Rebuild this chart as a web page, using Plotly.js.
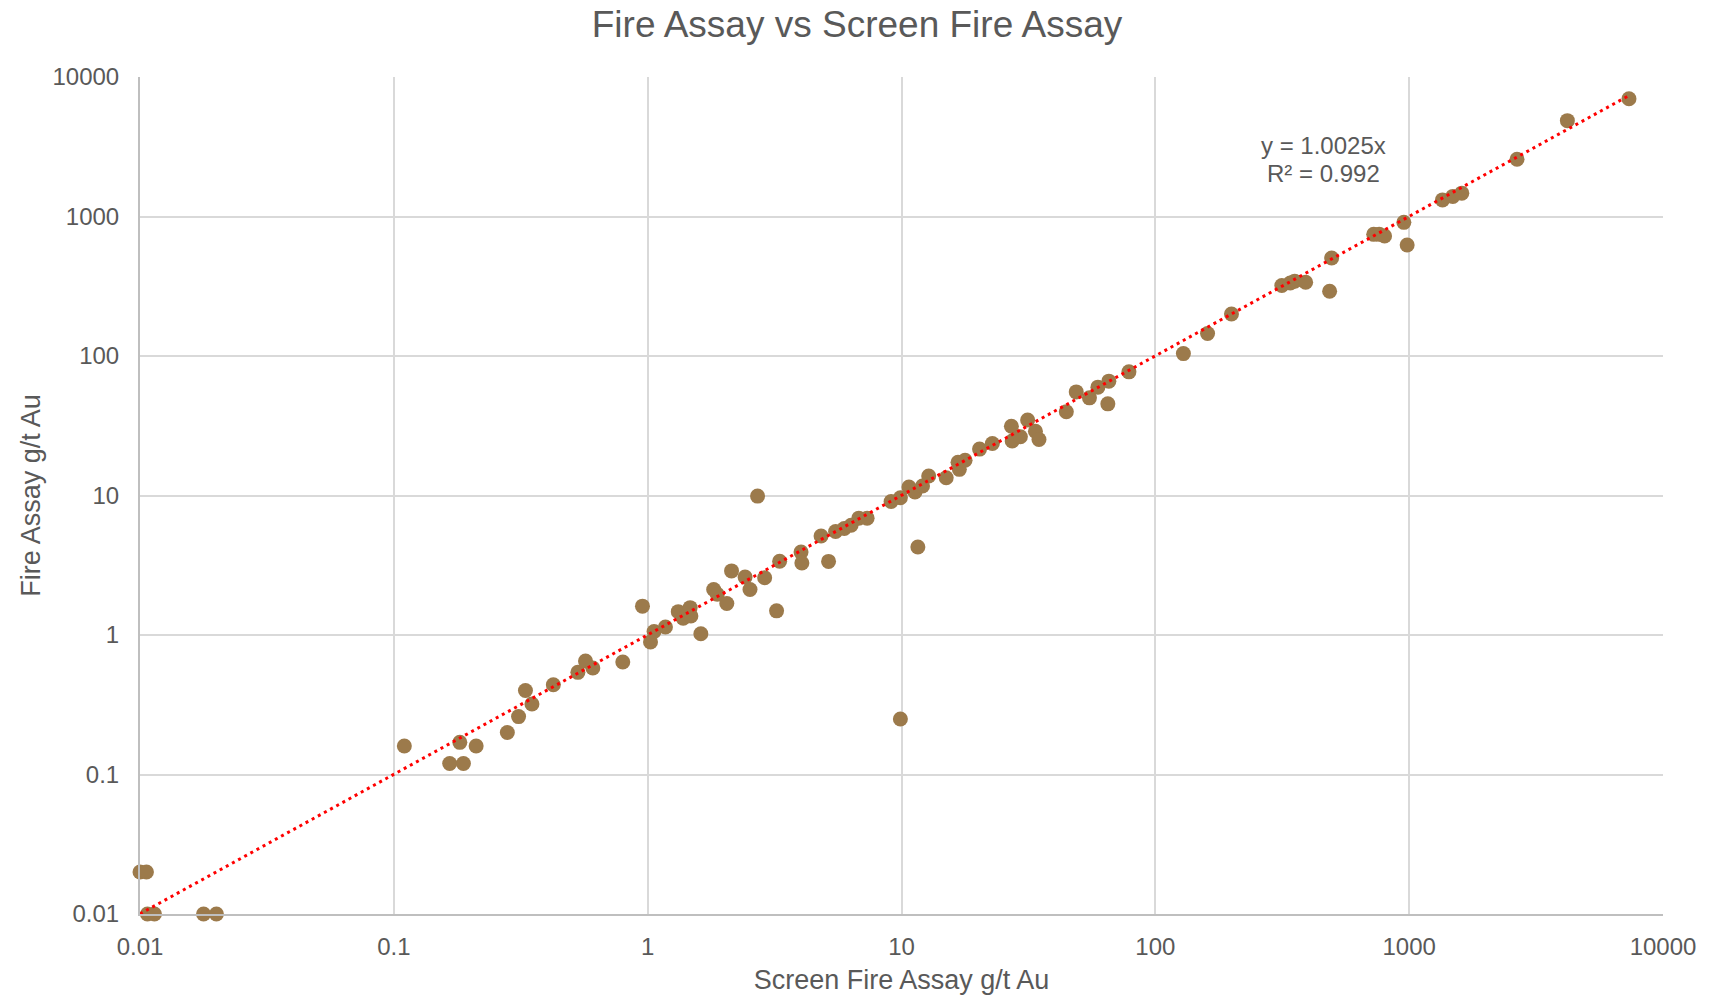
<!DOCTYPE html>
<html>
<head>
<meta charset="utf-8">
<script src="https://cdn.plot.ly/plotly-3.0.1.min.js"></script>
<style>
  html, body { margin: 0; padding: 0; background: #ffffff; }
  #chart { width: 1714px; height: 995px; }
</style>
</head>
<body>
<div id="chart"></div>
<script>
// Screen Fire Assay (x) vs Fire Assay (y), g/t Au
const screenFireAssay = [
  0.01, 0.0106, 0.0107, 0.0114, 0.0178, 0.02,
  0.11, 0.166, 0.182, 0.188, 0.211, 0.28, 0.31, 0.33, 0.35, 0.425,
  0.531, 0.569, 0.608, 0.798, 0.954, 1.026, 1.06, 1.175, 1.32, 1.38,
  1.47, 1.48, 1.62, 1.82, 1.88, 2.05, 2.14, 2.42, 2.53, 2.71,
  2.89, 3.22, 3.31, 4.02, 4.05, 4.82, 5.16, 5.5, 5.95, 6.33,
  6.79, 7.32, 9.1, 9.9, 9.9, 10.7, 11.3, 11.6, 12.1, 12.8,
  15.0, 16.7, 16.9, 17.8, 20.3, 22.8, 27.1, 27.3, 29.4, 31.4,
  33.7, 34.8, 44.6, 48.8, 55.0, 59.4, 65.0, 65.6, 78.7, 129,
  160.6, 199.5, 315, 340, 354, 391, 486, 495, 725, 762,
  800, 953, 982, 1353, 1486, 1612, 2660, 4200, 7345
];
const fireAssay = [
  0.02, 0.02, 0.01, 0.01, 0.01, 0.01,
  0.16, 0.12, 0.17, 0.12, 0.16, 0.2, 0.26, 0.4, 0.32, 0.44,
  0.54, 0.65, 0.58, 0.64, 1.61, 0.89, 1.06, 1.14, 1.47, 1.32,
  1.57, 1.37, 1.02, 2.12, 1.96, 1.68, 2.88, 2.6, 2.12, 9.9,
  2.57, 1.49, 3.38, 3.93, 3.28, 5.12, 3.37, 5.52, 5.8, 6.12,
  6.88, 6.88, 9.05, 9.64, 0.25, 11.5, 10.6, 4.27, 11.7, 13.8,
  13.4, 17.3, 15.4, 17.9, 21.5, 23.6, 31.4, 24.6, 26.4, 34.8,
  28.9, 25.2, 39.8, 55.3, 50.1, 59.8, 45.4, 66.0, 77, 104,
  145, 200, 320, 334, 344, 338, 291, 504, 745, 745,
  725, 908, 625, 1315, 1393, 1470, 2570, 4865, 6990
];

// Linear trendline through origin reported on the chart
const trendSlope = 1.0025;
const trendLabel = "y = 1.0025x";
const r2Label = "R² = 0.992";

const tickValues = [0.01, 0.1, 1, 10, 100, 1000, 10000];
const tickLabels = ["0.01", "0.1", "1", "10", "100", "1000", "10000"];

const xMin = Math.min(...screenFireAssay);
const xMax = Math.max(...screenFireAssay);
const trendX = [xMin, xMax];
const trendY = trendX.map(v => trendSlope * v);

const textColor = "#595959";
const fontFam = "'Liberation Sans', Arial, sans-serif";

const traces = [
  {
    type: "scatter",
    mode: "markers",
    x: screenFireAssay,
    y: fireAssay,
    name: "Fire Assay",
    cliponaxis: false,
    marker: { color: "#9C7A4B", size: 15, line: { width: 0 } },
    hoverinfo: "x+y"
  },
  {
    type: "scatter",
    mode: "lines",
    x: trendX,
    y: trendY,
    name: "Linear trend",
    cliponaxis: false,
    line: { color: "#FF0000", width: 3, dash: "3px,4px" },
    hoverinfo: "skip"
  }
];

const axisCommon = {
  type: "log",
  range: [-2, 4],
  tickvals: tickValues,
  ticktext: tickLabels,
  showgrid: true,
  gridcolor: "#D9D9D9",
  gridwidth: 2,
  zeroline: false,
  showline: true,
  linecolor: "#BFBFBF",
  linewidth: 2,
  ticks: "",
  tickfont: { family: fontFam, size: 24, color: textColor },
  automargin: false
};

const layout = {
  width: 1714,
  height: 995,
  paper_bgcolor: "#ffffff",
  plot_bgcolor: "#ffffff",
  showlegend: false,
  margin: { l: 140, r: 51, t: 77, b: 81 },
  font: { family: fontFam, color: textColor },
  title: {
    text: "Fire Assay vs Screen Fire Assay",
    font: { family: fontFam, size: 37, color: textColor },
    x: 0.5, xref: "container", xanchor: "center",
    y: 0.976, yref: "container", yanchor: "middle"
  },
  xaxis: Object.assign({}, axisCommon, {
    title: { text: "Screen Fire Assay g/t Au", font: { family: fontFam, size: 27, color: textColor }, standoff: 13 },
    ticklabelstandoff: 10
  }),
  yaxis: Object.assign({}, axisCommon, {
    title: { text: "Fire Assay g/t Au", font: { family: fontFam, size: 27, color: textColor }, standoff: 4 },
    ticklabelstandoff: 14
  }),
  annotations: [
    {
      xref: "paper", yref: "paper", x: 0.777, y: 0.918,
      xanchor: "center", yanchor: "middle", showarrow: false,
      text: trendLabel,
      font: { family: fontFam, size: 24, color: textColor }
    },
    {
      xref: "paper", yref: "paper", x: 0.777, y: 0.885,
      xanchor: "center", yanchor: "middle", showarrow: false,
      text: r2Label,
      font: { family: fontFam, size: 24, color: textColor }
    }
  ]
};

Plotly.newPlot("chart", traces, layout, { displayModeBar: false });
</script>
</body>
</html>
